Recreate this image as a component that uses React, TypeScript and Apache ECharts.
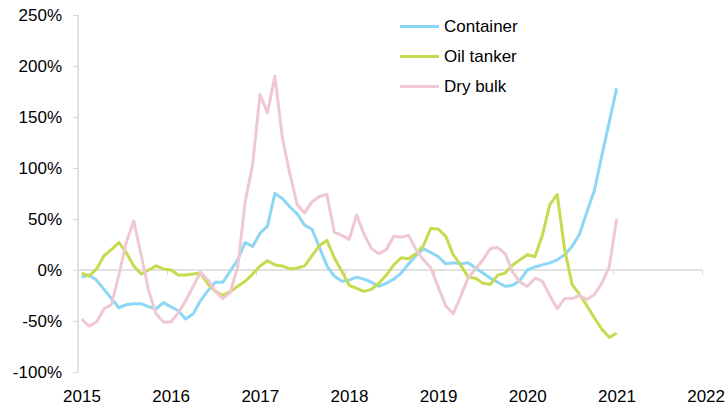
import React, { useEffect, useRef } from "react";
import * as echarts from "echarts";

const seriesNames = ["Container", "Oil tanker", "Dry bulk"];
const seriesColors = ["#8CD7F5", "#C8DA50", "#F0C8D2"];

// Monthly values, Jan 2015 .. Jan 2021 (%)
const container = [
  -7, -5, -10, -19, -28, -37, -34, -33, -33, -36, -38, -32,
  -36, -40, -48, -43, -30, -20, -12, -12, -1, 10, 27, 23,
  36, 43, 75, 70, 62, 55, 44, 40, 22, 4, -6, -11,
  -10, -7, -9, -12, -16, -13, -9, -3, 6, 14, 21, 17,
  13, 6, 7, 6, 7, 2, -3, -8, -12, -16, -15, -10,
  0, 3, 5, 7, 10, 15, 23, 35, 57, 78, 112, 145,
  178,
];
const oilTanker = [
  -3, -6, 1, 14, 20, 27, 17, 4, -4, 0, 4, 1,
  0, -5, -5, -4, -3, -14, -21, -25, -21, -16, -11, -4,
  4, 9, 5, 4, 1, 2, 4, 14, 24, 29, 12, -1,
  -15, -18, -21, -19, -13, -5, 5, 12, 11, 16, 24, 41,
  40, 33, 15, 5, -7, -8, -13, -14, -5, -3, 5, 10,
  15, 13, 34, 64, 74, 20, -14, -24, -35, -47, -58, -66,
  -62,
];
const dryBulk = [
  -48, -55, -51, -38, -34, -5, 27, 48, 15, -20, -43, -51,
  -51, -42, -30, -16, -2, -10, -21, -28, -22, 3, 67, 103,
  172, 154, 190, 130, 95, 64, 56, 67, 72, 74, 37, 34,
  30, 54, 35, 21, 16, 20, 33, 32, 34, 20, 10, 2,
  -17, -35, -43, -26, -8, 1, 10, 21, 22, 16, -2, -12,
  -16, -8, -11, -25, -38, -28, -28, -25, -29, -24, -13, 3,
  50,
];

const startYear = 2015;
const endYear = 2022;
const yMin = -100;
const yMax = 250;
const yStep = 50;

// mid-month position in decimal years
const monthX = container.map((_, i) => startYear + (i + 0.5) / 12);

const FONT = "'Liberation Sans', Arial, sans-serif";

export default function App() {
  const ref = useRef<HTMLDivElement>(null);

  useEffect(() => {
    if (!ref.current) return;
    const chart = echarts.init(ref.current, undefined, { renderer: "svg" });
    const all = [container, oilTanker, dryBulk];
    chart.setOption({
      animation: false,
      backgroundColor: "#ffffff",
      textStyle: { fontFamily: FONT },
      grid: { left: 78, right: 20, top: 15, bottom: 34, containLabel: false },
      legend: {
        orient: "vertical",
        left: 395,
        top: 13,
        icon: "rect",
        itemWidth: 39,
        itemHeight: 3,
        itemGap: 13,
        textStyle: { fontFamily: FONT, fontSize: 17, color: "#000" },
        data: seriesNames,
      },
      xAxis: [
        {
          type: "value",
          min: startYear,
          max: endYear,
          interval: 1,
          axisLine: { onZero: true, lineStyle: { color: "#d9d9d9", width: 1.5 } },
          axisTick: { show: true, length: 5, lineStyle: { color: "#d9d9d9" } },
          axisLabel: { show: false },
          splitLine: { show: false },
        },
        {
          type: "value",
          position: "bottom",
          min: startYear,
          max: endYear,
          interval: 1,
          axisLine: { show: false, onZero: false },
          axisTick: { show: false },
          splitLine: { show: false },
          axisLabel: {
            margin: 16,
            fontSize: 17,
            color: "#000",
            fontFamily: FONT,
            padding: [0, 0, 0, 8],
            formatter: (v: number) => String(v),
          },
        },
      ],
      yAxis: {
        type: "value",
        min: yMin,
        max: yMax,
        interval: yStep,
        axisLine: { show: true, lineStyle: { color: "#d9d9d9", width: 1.5 } },
        axisTick: { show: true, length: 5, lineStyle: { color: "#d9d9d9" } },
        splitLine: { show: false },
        axisLabel: {
          margin: 16,
          fontSize: 17,
          color: "#000",
          fontFamily: FONT,
          formatter: (v: number) => `${v}%`,
        },
      },
      series: seriesNames.map((name, k) => ({
        name,
        type: "line",
        xAxisIndex: 0,
        symbol: "none",
        color: seriesColors[k],
        lineStyle: { width: 3, color: seriesColors[k], join: "round" },
        data: all[k].map((v, i) => [monthX[i], v]),
      })),
    });
    return () => chart.dispose();
  }, []);

  return (
    <div
      ref={ref}
      style={{ position: "fixed", left: 0, top: 0, width: 728, height: 406 }}
    />
  );
}
